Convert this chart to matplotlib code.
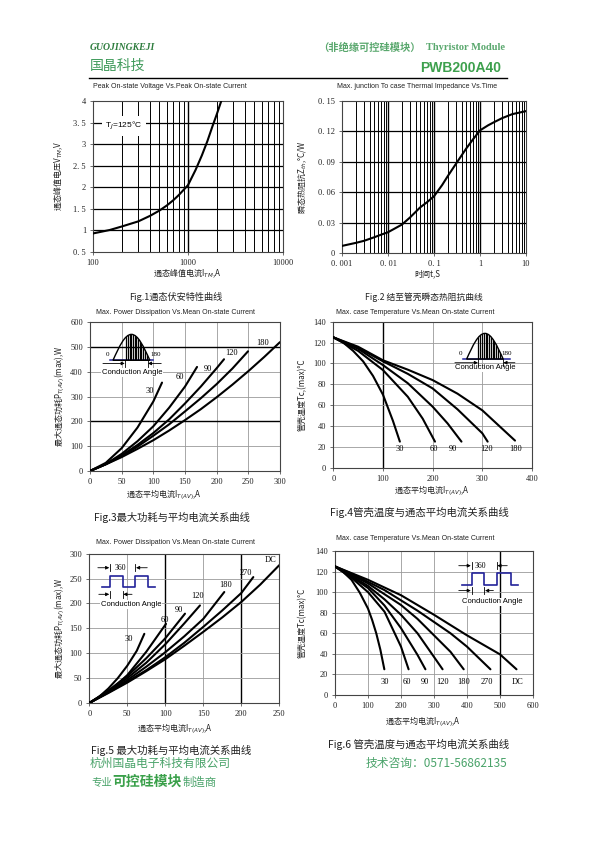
import numpy as np
import matplotlib
matplotlib.use("Agg")
import matplotlib.pyplot as plt
from matplotlib.path import Path
from matplotlib.patches import PathPatch

CJK = ['Noto Sans CJK SC', 'DejaVu Sans']
SERIF = ['Liberation Serif', 'DejaVu Serif']
SANS = ['Liberation Sans', 'DejaVu Sans']
plt.rcParams['font.family'] = CJK
plt.rcParams['mathtext.fontset'] = 'dejavusans'

# ---------------- DATA ----------------
# Fig.1  peak on-state voltage vs current (log x)
f1_current = [100, 150, 200, 300, 400, 500, 600, 700, 800, 1000, 1200, 1400, 1600, 1800, 2000, 2240]
f1_voltage = [0.93, 1.01, 1.09, 1.21, 1.34, 1.46, 1.58, 1.70, 1.82, 2.05, 2.40, 2.74, 3.07, 3.40, 3.68, 4.00]
f1_xticks = [100, 1000, 10000]
f1_xticklabels = ["100", "1000", "10000"]
f1_yticks = [0.5, 1, 1.5, 2, 2.5, 3, 3.5, 4]
f1_yticklabels = ["0. 5", "1", "1. 5", "2", "2. 5", "3", "3. 5", "4"]

# Fig.2  transient thermal impedance vs time (log x)
f2_time = [0.001, 0.002, 0.003, 0.005, 0.007, 0.01, 0.02, 0.03, 0.05, 0.07, 0.1, 0.15, 0.2, 0.3,
           0.5, 0.7, 1, 1.5, 2, 3, 5, 10]
f2_z = [0.007, 0.0100, 0.012, 0.0155, 0.018, 0.0205, 0.028, 0.035, 0.045, 0.050, 0.056, 0.067, 0.076,
        0.088, 0.103, 0.112, 0.121, 0.126, 0.129, 0.133, 0.137, 0.140]
f2_xticks = [0.001, 0.01, 0.1, 1, 10]
f2_xticklabels = ["0. 001", "0. 01", "0. 1", "1", "10"]
f2_yticks = [0, 0.03, 0.06, 0.09, 0.12, 0.15]
f2_yticklabels = ["0", "0. 03", "0. 06", "0. 09", "0. 12", "0. 15"]

# Fig.3  max power dissipation, sine wave
f3_i30 = [0, 25, 50, 75, 100, 113.7]
f3_p30 = [0, 33, 92, 175, 280, 356]
f3_i60 = [0, 25, 50, 75, 100, 125, 150, 169]
f3_p60 = [0, 28, 69, 120, 180, 255, 340, 419]
f3_i90 = [0, 25, 50, 75, 100, 125, 150, 175, 200, 211.6]
f3_p90 = [0, 28, 63, 105, 153, 208, 272, 340, 414, 450]
f3_i120 = [0, 25, 50, 75, 100, 125, 150, 175, 200, 225, 249.5]
f3_p120 = [0, 27, 59, 98, 142, 188, 240, 293, 350, 413, 482]
f3_i180 = [0, 25, 50, 75, 100, 125, 150, 175, 200, 225, 250, 275, 300]
f3_p180 = [0, 27, 56, 89, 124, 163, 205, 249, 297, 348, 402, 459, 519]
f3_labels = ["30", "60", "90", "120", "180"]

# Fig.4  max case temperature, sine wave
f4_i30 = [0, 20, 40, 60, 80, 100, 120, 134]
f4_t30 = [125, 120, 112, 102, 88, 70, 45, 25]
f4_i60 = [0, 50, 100, 150, 180, 204.7]
f4_t60 = [125, 112, 93.6, 68, 47, 25]
f4_i90 = [0, 50, 100, 150, 200, 230, 258]
f4_t90 = [125, 114, 98.4, 81, 58.5, 42.5, 25]
f4_i120 = [0, 50, 100, 150, 200, 250, 300, 310.7]
f4_t120 = [125, 115, 102, 90, 76, 56, 33, 25]
f4_i180 = [0, 50, 100, 150, 200, 250, 300, 365.8]
f4_t180 = [125, 116, 103, 94, 84, 71, 55, 26]
f4_labels = ["30", "60", "90", "120", "180"]

# Fig.5  max power dissipation, square wave
f5_i30 = [0, 12.5, 25, 37.5, 50, 62.5, 72.4]
f5_p30 = [0, 12, 29, 50, 75, 105, 139]
f5_i60 = [0, 25, 50, 75, 100.9]
f5_p60 = [0, 22, 56, 103, 159]
f5_i90 = [0, 25, 50, 75, 100, 125.9]
f5_p90 = [0, 25, 54, 90, 130, 179.5]
f5_i120 = [0, 25, 50, 75, 100, 125, 145.6]
f5_p120 = [0, 24, 50, 81, 118, 160, 196]
f5_i180 = [0, 25, 50, 75, 100, 125, 150, 177.6]
f5_p180 = [0, 22, 46, 73, 102, 134, 169, 223]
f5_i270 = [0, 25, 50, 75, 100, 125, 150, 175, 200, 215.8]
f5_p270 = [0, 21, 43, 66, 92, 121, 153, 186, 221, 253]
f5_idc = [0, 25, 50, 75, 100, 125, 150, 175, 200, 225, 250]
f5_pdc = [0, 20, 41, 64, 88, 115, 143, 172, 203, 238, 277]
f5_labels = ["30", "60", "90", "120", "180", "270", "DC"]

# Fig.6  max case temperature, square wave
f6_i30 = [0, 25, 50, 75, 100, 112.5, 125, 137.5, 149.5]
f6_t30 = [125, 119.5, 112, 99.5, 84, 73, 60, 44, 25]
f6_i60 = [0, 50, 100, 150, 200, 223]
f6_t60 = [125, 114, 100, 81, 47, 25]
f6_i90 = [0, 50, 100, 150, 200, 250, 274]
f6_t90 = [125, 115, 104, 87, 65, 39, 25]
f6_i120 = [0, 50, 100, 150, 200, 250, 300, 326]
f6_t120 = [125, 116, 106, 93, 78, 60, 37, 25]
f6_i180 = [0, 50, 100, 150, 200, 250, 300, 350, 390]
f6_t180 = [125, 117, 108.5, 98, 87.5, 74, 58, 42, 25]
f6_i270 = [0, 50, 100, 150, 200, 250, 300, 350, 400, 471]
f6_t270 = [125, 118, 110, 102, 92, 82, 71, 60, 47, 25]
f6_idc = [0, 100, 200, 300, 400, 500, 550]
f6_tdc = [125, 112, 97, 78, 58, 39.5, 25]
f6_labels = ["30", "60", "90", "120", "180", "270", "DC"]

# ---------------- LAYOUT ----------------
W, H = 595, 842
fig = plt.figure(figsize=(W / 100, H / 100), dpi=100)
fig.patch.set_facecolor('white')


def P(x, y):
    return (x / W, 1 - y / H)


def rect(x0, y0, x1, y1):
    return [x0 / W, 1 - y1 / H, (x1 - x0) / W, (y1 - y0) / H]


def ftext(x, y, s, **kw):
    kw.setdefault('ha', 'center')
    kw.setdefault('va', 'center')
    return fig.text(*P(x, y), s, **kw)


GREEN = '#3f9a5a'
TXT = '#222222'
GRAY = '#9a9a9a'


def setup(ax, xlim, ylim, xticks, xtl, yticks, ytl, log=False):
    if log:
        ax.set_xscale('log')
    ax.set_xlim(*xlim)
    ax.set_ylim(*ylim)
    ax.set_xticks(xticks)
    ax.set_xticklabels(xtl, fontfamily=SERIF, fontsize=6, color=TXT)
    ax.set_yticks(yticks)
    ax.set_yticklabels(ytl, fontfamily=SERIF, fontsize=6, color=TXT)
    ax.minorticks_off()
    ax.tick_params(length=2, width=0.6, color='#555555', pad=3)
    for s in ax.spines.values():
        s.set_color('#444444')
        s.set_linewidth(0.8)


def vgrid(ax, xs, color='k', lw=0.6):
    for x in xs:
        ax.axvline(x, color=color, lw=lw, zorder=1)


def hgrid(ax, ys, color='k', lw=0.6):
    for y in ys:
        ax.axhline(y, color=color, lw=lw, zorder=1)


CURVE = dict(color='k', lw=1.5, zorder=3, solid_capstyle='round', solid_joinstyle='round')

# ---------- Fig.1 ----------
ax1 = fig.add_axes(rect(93, 101, 283, 252))
setup(ax1, (100, 10000), (0.5, 4), f1_xticks, f1_xticklabels, f1_yticks, f1_yticklabels, log=True)
vgrid(ax1, [m * d for d in (100, 1000) for m in range(2, 10)], lw=0.7)
vgrid(ax1, [1000], lw=1.0)
hgrid(ax1, [1, 1.5, 2, 2.5, 3, 3.5], lw=0.9)
ax1.plot(f1_current, f1_voltage, **CURVE)
ax1.text(134, 3.42, "T$_J$=125°C", fontfamily=SANS, fontsize=6, ha='left', va='center', zorder=4,
         bbox=dict(facecolor='white', edgecolor='none', pad=2.5))

# ---------- Fig.2 ----------
ax2 = fig.add_axes(rect(342, 101, 526, 253))
setup(ax2, (0.001, 10), (0, 0.15), f2_xticks, f2_xticklabels, f2_yticks, f2_yticklabels, log=True)
vgrid(ax2, [m * d for d in (0.001, 0.01, 0.1, 1) for m in range(2, 10)], lw=0.7)
vgrid(ax2, [0.01, 0.1, 1], lw=1.0)
hgrid(ax2, [0.03, 0.06, 0.09, 0.12], lw=0.9)
ax2.plot(f2_time, f2_z, **CURVE)


# ---------- insets ----------
def half_sine(ax, xa, xb, y0, h, hx0, hx1):
    w = (xb - xa) / 2
    xm = xa + w
    verts = [(xa, y0), (xa + 0.334 * w, y0 + 0.525 * h), (xa + 0.640 * w, y0 + h), (xm, y0 + h),
             (xm + 0.360 * w, y0 + h), (xm + 0.666 * w, y0 + 0.525 * h), (xb, y0), (xa, y0)]
    codes = [Path.MOVETO] + [Path.CURVE4] * 6 + [Path.CLOSEPOLY]
    patch = PathPatch(Path(verts, codes), facecolor='none', edgecolor='k', lw=1.0,
                      transform=ax.transAxes, zorder=5)
    ax.add_patch(patch)
    for x in np.arange(hx0, hx1, 0.009):
        ln, = ax.plot([x, x], [y0, y0 + h], color='k', lw=0.9, transform=ax.transAxes, zorder=5)
        ln.set_clip_path(patch)


def harrow(ax, tail, tip, y):
    ax.annotate('', xy=(tip, y), xytext=(tail, y), xycoords='axes fraction',
                arrowprops=dict(arrowstyle='-|>', lw=0.6, color='k', mutation_scale=5,
                                shrinkA=0, shrinkB=0), zorder=6)


def vtick(ax, x, y, d=0.025):
    ax.plot([x, x], [y - d, y + d], color='k', lw=0.6, transform=ax.transAxes, zorder=6)


def sine_inset(ax, bl0, bl1, y0, xa, xb, h, hx0, hx1, ay, la, ra, lab0x, lab180x, tx, ty):
    ax.plot([bl0, bl1], [y0, y0], color='#22229a', lw=1.1, transform=ax.transAxes, zorder=5)
    half_sine(ax, xa, xb, y0, h, hx0, hx1)
    ax.text(lab0x, y0 + 0.04, "0", transform=ax.transAxes, fontfamily=SERIF, fontsize=5,
            ha='center', va='center', zorder=6)
    ax.text(lab180x, y0 + 0.04, "180", transform=ax.transAxes, fontfamily=SERIF, fontsize=5,
            ha='left', va='center', zorder=6)
    harrow(ax, la[0], la[1], ay)
    vtick(ax, la[1], ay)
    harrow(ax, ra[0], ra[1], ay)
    vtick(ax, ra[1], ay)
    ax.text(tx, ty, "Conduction Angle", transform=ax.transAxes, fontfamily=SANS, fontsize=5.5,
            ha='center', va='center', zorder=5,
            bbox=dict(facecolor='white', edgecolor='none', pad=0.5))


def square_inset(ax, xs, y0, y1, top_y, bot_y, tl, tr, bl, br, x360, tx, ty):
    wx = [xs[0], xs[1], xs[1], xs[2], xs[2], xs[3], xs[3], xs[4], xs[4], xs[5]]
    wy = [y0, y0, y1, y1, y0, y0, y1, y1, y0, y0]
    ax.plot(wx, wy, color='#22229a', lw=1.2, transform=ax.transAxes, zorder=5)
    harrow(ax, tl[0], tl[1], top_y)
    vtick(ax, tl[1] + 0.004, top_y)
    harrow(ax, tr[0], tr[1], top_y)
    vtick(ax, tr[1] - 0.004, top_y)
    ax.text(x360, top_y, "360", transform=ax.transAxes, fontfamily=SERIF, fontsize=5.5,
            ha='center', va='center', zorder=6, bbox=dict(facecolor='white', edgecolor='none', pad=0.3))
    harrow(ax, bl[0], bl[1], bot_y)
    vtick(ax, bl[1] + 0.004, bot_y)
    harrow(ax, br[0], br[1], bot_y)
    vtick(ax, br[1] - 0.004, bot_y)
    ax.text(tx, ty, "Conduction Angle", transform=ax.transAxes, fontfamily=SANS, fontsize=5.5,
            ha='center', va='center', zorder=5,
            bbox=dict(facecolor='white', edgecolor='none', pad=0.5))


def curve_labels(ax, labels, xs, ys):
    for s, x, y in zip(labels, xs, ys):
        ax.text(x, y, s, fontfamily=SERIF, fontsize=6, ha='center', va='center', zorder=4)


# ---------- Fig.3 ----------
ax3 = fig.add_axes(rect(90, 322, 280, 471))
setup(ax3, (0, 300), (0, 600), list(range(0, 301, 50)), [str(v) for v in range(0, 301, 50)],
      list(range(0, 601, 100)), [str(v) for v in range(0, 601, 100)])
vgrid(ax3, [50, 100, 150, 200, 250], color=GRAY)
hgrid(ax3, [100, 300, 400], color=GRAY)
hgrid(ax3, [200, 500], lw=1.0)
for xi, yi in [(f3_i30, f3_p30), (f3_i60, f3_p60), (f3_i90, f3_p90), (f3_i120, f3_p120), (f3_i180, f3_p180)]:
    ax3.plot(xi, yi, **CURVE)
curve_labels(ax3, f3_labels, [95, 142, 186, 224, 273], [322, 379, 412, 476, 515])
sine_inset(ax3, 0.104, 0.332, 0.743, 0.121, 0.315, 0.174, 0.19, 0.305, 0.722,
           (0.068, 0.183), (0.375, 0.305), 0.092, 0.318, 0.22, 0.66)

# ---------- Fig.4 ----------
ax4 = fig.add_axes(rect(333.3, 321.7, 532, 467.7))
setup(ax4, (0, 400), (0, 140), [0, 100, 200, 300, 400], ["0", "100", "200", "300", "400"],
      list(range(0, 141, 20)), [str(v) for v in range(0, 141, 20)])
vgrid(ax4, [200, 300], color=GRAY)
vgrid(ax4, [100], lw=1.0)
hgrid(ax4, [20, 40, 60, 80, 100, 120], color=GRAY)
for xi, yi in [(f4_i30, f4_t30), (f4_i60, f4_t60), (f4_i90, f4_t90), (f4_i120, f4_t120), (f4_i180, f4_t180)]:
    ax4.plot(xi, yi, **CURVE)
curve_labels(ax4, f4_labels, [134, 202, 241, 308, 367], [18] * 5)
sine_inset(ax4, 0.651, 0.89, 0.744, 0.671, 0.855, 0.176, 0.73, 0.85, 0.719,
           (0.612, 0.728), (0.914, 0.856), 0.641, 0.845, 0.763, 0.685)

# ---------- Fig.5 ----------
ax5 = fig.add_axes(rect(89.3, 553.7, 279.3, 703))
setup(ax5, (0, 250), (0, 300), list(range(0, 251, 50)), [str(v) for v in range(0, 251, 50)],
      list(range(0, 301, 50)), [str(v) for v in range(0, 301, 50)])
vgrid(ax5, [50, 150], color=GRAY)
vgrid(ax5, [100, 200], lw=1.0)
hgrid(ax5, [50, 100, 150, 200, 250], color=GRAY)
for xi, yi in [(f5_i30, f5_p30), (f5_i60, f5_p60), (f5_i90, f5_p90), (f5_i120, f5_p120),
               (f5_i180, f5_p180), (f5_i270, f5_p270), (f5_idc, f5_pdc)]:
    ax5.plot(xi, yi, **CURVE)
curve_labels(ax5, f5_labels, [52, 99, 117.5, 142, 180, 206, 239], [128, 167, 186, 214, 238, 261, 287])
square_inset(ax5, [0.067, 0.109, 0.175, 0.242, 0.307, 0.347], 0.777, 0.85, 0.906, 0.728,
             (0.045, 0.105), (0.305, 0.246), (0.05, 0.105), (0.225, 0.179), 0.165, 0.219, 0.66)

# ---------- Fig.6 ----------
ax6 = fig.add_axes(rect(335, 551, 533, 695))
setup(ax6, (0, 600), (0, 140), list(range(0, 601, 100)), [str(v) for v in range(0, 601, 100)],
      list(range(0, 141, 20)), [str(v) for v in range(0, 141, 20)])
vgrid(ax6, [100, 200, 300, 400], color=GRAY)
vgrid(ax6, [500], lw=1.0)
hgrid(ax6, [20, 40, 60, 80, 100, 120], color=GRAY)
for xi, yi in [(f6_i30, f6_t30), (f6_i60, f6_t60), (f6_i90, f6_t90), (f6_i120, f6_t120),
               (f6_i180, f6_t180), (f6_i270, f6_t270), (f6_idc, f6_tdc)]:
    ax6.plot(xi, yi, **CURVE)
curve_labels(ax6, f6_labels, [150, 218, 274, 326, 390, 460, 553], [13] * 7)
square_inset(ax6, [0.641, 0.69, 0.754, 0.816, 0.889, 0.923], 0.764, 0.85, 0.898, 0.725,
             (0.625, 0.686), (0.87, 0.82), (0.625, 0.686), (0.80, 0.758), 0.735, 0.796, 0.648)

# ---------------- TEXT ----------------
ftext(90, 47, "GUOJINGKEJI", ha='left', fontfamily=SERIF, fontsize=7, fontweight='bold',
      fontstyle='italic', color='#2e7d3e')
ftext(90, 66, "国晶科技", ha='left', fontsize=10, color=GREEN)
ftext(421, 48, "（非绝缘可控硅模块）", ha='right', fontsize=7.4, fontweight='bold', color='#5aa86e')
ftext(505, 48, "Thyristor Module", ha='right', fontfamily=SERIF, fontsize=7.5, fontweight='bold',
      color='#5aa86e')
ftext(501, 68, "PWB200A40", ha='right', fontfamily=SANS, fontsize=10, fontweight='bold', color='#3da04d')
fig.add_artist(plt.Line2D([89 / W, 507 / W], [1 - 78 / H, 1 - 78 / H], color='k', lw=1.0))

TT = dict(fontfamily=SANS, fontsize=5, color=TXT)
ftext(93, 86, "Peak On-state Voltage Vs.Peak On-state Current", ha='left', **TT)
ftext(337, 86, "Max. junction To case Thermal Impedance Vs.Time", ha='left', **TT)
ftext(175, 312, "Max. Power Dissipation Vs.Mean On-state Current", **TT)
ftext(415, 312, "Max. case Temperature Vs.Mean On-state Current", **TT)
ftext(176, 542, "Max. Power Dissipation Vs.Mean On-state Current", **TT)
ftext(415, 538, "Max. case Temperature Vs.Mean On-state Current", **TT)

AL = dict(fontsize=5.8, color=TXT)
ftext(187, 273, "通态峰值电流I$_{TM}$,A", **AL)
ftext(58, 176, "通态峰值电压V$_{TM}$,V", rotation=90, **AL)
ftext(427, 274, "时间t,S", **AL)
ftext(302, 177, "瞬态热阻抗Z$_{th}$,°C/W", rotation=90, **AL)
ftext(164, 495, "通态平均电流I$_{T(AV)}$,A", **AL)
ftext(60, 396, "最大通态功耗P$_{T(AV)}$(max),W", rotation=90, **AL)
ftext(432, 491, "通态平均电流I$_{T(AV)}$,A", **AL)
ftext(302, 395, "管壳温度Tc,(max)°C", rotation=90, **AL)
ftext(175, 729, "通态平均电流I$_{T(AV)}$,A", **AL)
ftext(60, 628, "最大通态功耗P$_{T(AV)}$(max),W", rotation=90, **AL)
ftext(423, 722, "通态平均电流I$_{T(AV)}$,A", **AL)
ftext(302, 623, "管壳温度Tc(max)°C", rotation=90, **AL)

ftext(176, 297, "Fig.1通态伏安特性曲线", fontsize=6.6, color=TXT)
ftext(424, 297, "Fig.2 结至管壳瞬态热阻抗曲线", fontsize=6.3, color=TXT)
ftext(172, 517, "Fig.3最大功耗与平均电流关系曲线", fontsize=7.4, color=TXT)
ftext(419, 512, "Fig.4管壳温度与通态平均电流关系曲线", fontsize=7.5, color=TXT)
ftext(171, 750, "Fig.5 最大功耗与平均电流关系曲线", fontsize=7.5, color=TXT)
ftext(419, 744, "Fig.6 管壳温度与通态平均电流关系曲线", fontsize=7.5, color=TXT)

ftext(90, 763, "杭州国晶电子科技有限公司", ha='left', fontsize=8.5, color='#4aa36a')
ftext(366, 763, "技术咨询：0571-56862135", ha='left', fontsize=8.5, color='#4aa36a')
ftext(91, 782, "专业", ha='left', fontsize=7.5, color='#4aa36a')
ftext(112, 782, "可控硅模块", ha='left', fontsize=10, fontweight='bold', color='#3aa04a')
ftext(183, 782, "制造商", ha='left', fontsize=8.2, color='#4aa36a')

fig.savefig("out.png", dpi=100, facecolor='white')
